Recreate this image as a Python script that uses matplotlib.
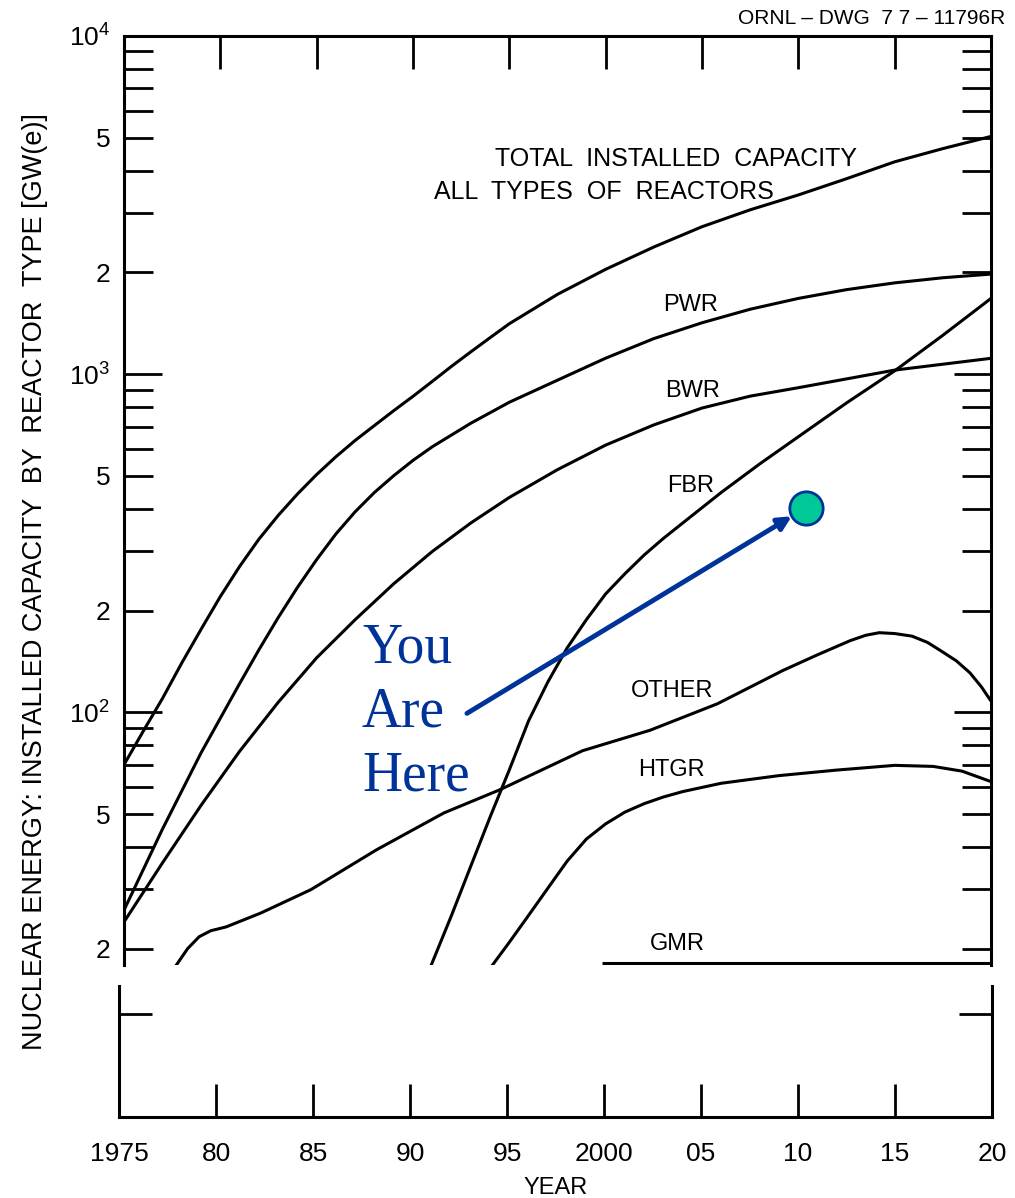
import math
import matplotlib
matplotlib.use('Agg')
import matplotlib.pyplot as plt
from matplotlib.ticker import FixedLocator, FuncFormatter, NullFormatter

plt.rcParams['font.family'] = ['Liberation Sans', 'DejaVu Sans']
plt.rcParams['mathtext.fontset'] = 'custom'
plt.rcParams['mathtext.rm'] = 'Liberation Sans'
plt.rcParams['mathtext.it'] = 'Liberation Sans:italic'
plt.rcParams['mathtext.bf'] = 'Liberation Sans:bold'

# ---- data (GW(e)) ----
total_years = [1975, 1976, 1977, 1978, 1979, 1980, 1981, 1982, 1983, 1984, 1985, 1986,
               1987, 1988, 1989, 1990, 1991, 1992, 1993, 1994, 1995, 1997.5, 2000,
               2002.5, 2005, 2007.5, 2010, 2012.5, 2015, 2017.5, 2020]
total_vals = [70, 88, 110, 140, 176, 220, 270, 325, 382, 442, 505, 570,
              637, 705, 780, 860, 952, 1055, 1164, 1282, 1410, 1722, 2042,
              2377, 2729, 3062, 3388, 3784, 4246, 4645, 5047]

pwr_years = [1975, 1977, 1979, 1981, 1982, 1983, 1984, 1985, 1986, 1987, 1988, 1989,
             1990, 1991, 1993, 1995, 1997.5, 2000, 2002.5, 2005, 2007.5, 2010, 2012.5,
             2015, 2017.5, 2020]
pwr_vals = [26, 45.2, 75.9, 121.6, 153, 190.5, 234, 283, 337, 392, 447, 501,
            556, 610, 716, 826, 960, 1115, 1274, 1419, 1556, 1675, 1778,
            1862, 1928, 1977]

bwr_years = [1975, 1977, 1979, 1981, 1983, 1985, 1987, 1989, 1991, 1993, 1995, 1997.5,
             2000, 2002.5, 2005, 2007.5, 2010, 2015, 2020]
bwr_vals = [24, 35.9, 53.1, 76.7, 107, 145, 188, 240, 299, 363, 432, 522,
            617, 708, 794, 861, 912, 1028, 1114]

fbr_years = [1990.8, 1991, 1992, 1993, 1994, 1995, 1996, 1997, 1998, 1999, 2000, 2001,
             2002, 2003, 2004, 2006, 2008, 2010, 2012.5, 2015, 2017.5, 2020]
fbr_vals = [17, 18.2, 25.1, 35.1, 49.0, 67.6, 94.4, 123, 155, 188, 224, 257,
            292, 327, 363, 447, 543, 653, 822, 1023, 1303, 1675]

other_years = [1977.6, 1978.3, 1978.9, 1979.5, 1980.3, 1982.1, 1984.7, 1988.1, 1991.6,
               1994.5, 1998.8, 2002.3, 2005.8, 2009.2, 2011, 2012.7, 2013.5, 2014.2,
               2015, 2015.9, 2016.7, 2017.4, 2018.2, 2018.9, 2019.5, 2020]
other_vals = [17.5, 20.0, 21.7, 22.6, 23.2, 25.5, 29.9, 39.2, 50.4,
              59, 77, 88.5, 106, 133, 148, 163, 169, 172,
              171, 168, 161, 152, 142, 131, 119, 108]

htgr_years = [1994, 1995, 1996, 1997, 1998, 1999, 2000, 2001, 2002, 2003, 2004, 2006,
              2009, 2012, 2015, 2017, 2018.5, 2020]
htgr_vals = [17.5, 20.9, 25.1, 30.2, 36.3, 42.2, 46.8, 50.7, 53.7, 56.2, 58.3, 61.7,
             65.0, 67.5, 69.7, 69.2, 67.0, 62.4]

gmr_years = [1999.8, 2005, 2010, 2015, 2020]
gmr_vals = [18.2, 18.2, 18.2, 18.2, 18.2]

year_ticks = [1975, 1980, 1985, 1990, 1995, 2000, 2005, 2010, 2015, 2020]
year_labels = ['1975', '80', '85', '90', '95', '2000', '05', '10', '15', '20']

# "you are here" marker
here_year, here_val = 2010.4, 403
arrow_from = (1992.8, 99.3)

blue = '#003399'
lw = 2.2

fig = plt.figure(figsize=(10.15, 11.98), dpi=100)
ax = fig.add_axes([124 / 1015, 1 - 965 / 1198, 867 / 1015, 929 / 1198])
axb = fig.add_axes([119 / 1015, 1 - 1117 / 1198, 873 / 1015, 131 / 1198])

for yrs, vals in [(total_years, total_vals), (pwr_years, pwr_vals), (bwr_years, bwr_vals),
                  (fbr_years, fbr_vals), (other_years, other_vals),
                  (htgr_years, htgr_vals), (gmr_years, gmr_vals)]:
    ax.plot(yrs, vals, color='black', lw=lw, solid_capstyle='butt', solid_joinstyle='round')

ax.set_yscale('log')
ax.set_xlim(1975, 2020)
ax.set_ylim(17.9, 10000)

# spines
for s in ['left', 'right', 'top']:
    ax.spines[s].set_linewidth(lw)
ax.spines['bottom'].set_visible(False)

# y ticks: decades long, others short, labels at 2 and 5
ax.yaxis.set_major_locator(FixedLocator([100, 1000, 10000]))
minors = [m * d for d in [10, 100, 1000] for m in range(2, 10)]
ax.yaxis.set_minor_locator(FixedLocator(minors))


def major_fmt(v, pos):
    return r'$\mathregular{10^{%d}}$' % round(math.log10(v))


def minor_fmt(v, pos):
    lead = int(round(v / 10 ** math.floor(math.log10(v))))
    return str(lead) if lead in (2, 5) else ''


ax.yaxis.set_major_formatter(FuncFormatter(major_fmt))
ax.yaxis.set_minor_formatter(FuncFormatter(minor_fmt))
ax.tick_params(axis='y', which='major', direction='in', length=27, width=2,
               left=True, right=True, labelsize=19, pad=10)
ax.tick_params(axis='y', which='minor', direction='in', length=21, width=2,
               left=True, right=True, labelsize=19, pad=10)

ax.set_xticks(year_ticks[1:-1])
ax.tick_params(axis='x', which='both', direction='in', length=24, width=2,
               top=True, bottom=False, labelbottom=False, labeltop=False)

# lower strip
axb.set_xlim(1975, 2020)
axb.set_ylim(0, 1)
axb.spines['top'].set_visible(False)
for s in ['left', 'right', 'bottom']:
    axb.spines[s].set_linewidth(lw)
axb.set_xticks(year_ticks)
axb.set_xticklabels(year_labels)
axb.tick_params(axis='x', direction='in', length=24, width=2, labelsize=19, pad=18)
axb.set_yticks([0.79])
axb.yaxis.set_major_formatter(NullFormatter())
axb.tick_params(axis='y', direction='in', length=24, width=2, left=True, right=True)
axb.set_xlabel('YEAR', fontsize=17, labelpad=8)

# curve labels
ax.text(1994.25, 4335, 'TOTAL  INSTALLED  CAPACITY', fontsize=18, va='center', ha='left')
ax.text(1991.1, 3467, 'ALL  TYPES  OF  REACTORS', fontsize=18, va='center', ha='left')
ax.text(2003.0, 1607, 'PWR', fontsize=17, va='center', ha='left')
ax.text(2003.1, 891, 'BWR', fontsize=17, va='center', ha='left')
ax.text(2003.2, 467, 'FBR', fontsize=17, va='center', ha='left')
ax.text(2001.3, 116, 'OTHER', fontsize=17, va='center', ha='left')
ax.text(2001.7, 67.5, 'HTGR', fontsize=17, va='center', ha='left')
ax.text(2002.3, 20.6, 'GMR', fontsize=17, va='center', ha='left')

# you are here
ax.annotate('', xy=(here_year, here_val), xytext=arrow_from,
            arrowprops=dict(arrowstyle='-|>', color=blue, lw=3.5, mutation_scale=20,
                            shrinkA=0, shrinkB=12))
ax.plot([here_year], [here_val], 'o', ms=24, mfc='#00C896', mec=blue, mew=2, zorder=5)
ax.text(1987.35, 100, 'You\nAre\nHere', fontsize=40, color=blue, va='center', ha='left',
        family=['Liberation Serif', 'DejaVu Serif'], linespacing=1.3)

fig.text(35 / 1015, 1 - 582 / 1198,
         'NUCLEAR ENERGY: INSTALLED CAPACITY  BY  REACTOR  TYPE [GW(e)]',
         rotation=90, fontsize=19.5, ha='center', va='center')
fig.text(1005 / 1015, 1 - 18 / 1198, 'ORNL \u2013 DWG  7 7 \u2013 11796R', fontsize=15,
         ha='right', va='center')

fig.savefig('out.png', dpi=100)
